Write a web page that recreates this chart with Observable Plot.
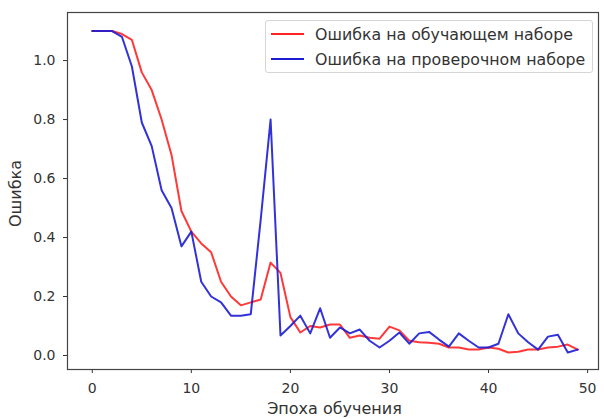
<!DOCTYPE html>
<html><head><meta charset="utf-8">
<script src="https://cdn.jsdelivr.net/npm/d3@7"></script>
<script src="https://cdn.jsdelivr.net/npm/@observablehq/plot@0.6"></script>
<style>
body{margin:0;background:#fff}
#wrap{position:relative;width:604px;height:419px;overflow:hidden;font-family:"DejaVu Sans",sans-serif}
#legend{position:absolute;left:265px;top:20px;width:328px;height:53px;box-sizing:border-box;border:1px solid #d5d5d5;border-radius:3px;background:rgba(255,255,255,0.85);font-size:15.8px;color:#333}
.row{position:absolute;left:0;height:20px;display:flex;align-items:center;white-space:nowrap}
.sw{width:33px;height:2px;margin-left:5px;margin-right:11px}
</style>
</head><body><div id="wrap"></div>
<script>
const epochs = [0,1,2,3,4,5,6,7,8,9,10,11,12,13,14,15,16,17,18,19,20,21,22,23,24,25,26,27,28,29,30,31,32,33,34,35,36,37,38,39,40,41,42,43,44,45,46,47,48,49];
const trainLoss = [1.10,1.10,1.10,1.09,1.07,0.96,0.90,0.80,0.68,0.49,0.42,0.38,0.35,0.25,0.20,0.17,0.18,0.19,0.315,0.28,0.13,0.078,0.10,0.095,0.105,0.105,0.06,0.068,0.06,0.057,0.098,0.085,0.05,0.045,0.043,0.04,0.027,0.027,0.02,0.02,0.027,0.023,0.01,0.013,0.02,0.02,0.027,0.03,0.037,0.02];
const valLoss = [1.10,1.10,1.10,1.08,0.98,0.79,0.71,0.56,0.50,0.37,0.42,0.25,0.20,0.18,0.135,0.135,0.14,0.46,0.80,0.068,0.10,0.135,0.075,0.16,0.06,0.095,0.075,0.088,0.05,0.027,0.05,0.078,0.04,0.075,0.08,0.054,0.03,0.075,0.05,0.027,0.027,0.04,0.14,0.075,0.045,0.02,0.064,0.07,0.01,0.02];
const seriesNames = ["Ошибка на обучающем наборе","Ошибка на проверочном наборе"];
const seriesColors = ["#ff2424","#1c1cd4"];
const xTicks = [0,10,20,30,40,50];
const yTicks = [0.0,0.2,0.4,0.6,0.8,1.0];
const xLabel = "Эпоха обучения";
const yLabel = "Ошибка";

const rows = [];
epochs.forEach((e,i)=>{
  rows.push({epoch:e, loss:trainLoss[i], s:seriesNames[0]});
  rows.push({epoch:e, loss:valLoss[i], s:seriesNames[1]});
});

const chart = Plot.plot({
  width:604, height:419,
  marginLeft:67, marginTop:12, marginRight:6, marginBottom:50,
  style:{fontFamily:"DejaVu Sans", fontSize:"14px", color:"#333", background:"#fff"},
  x:{domain:[-2.5,51.1]},
  y:{domain:[-0.0475,1.163]},
  color:{domain:seriesNames, range:seriesColors},
  marks:[
    Plot.axisX({ticks:xTicks, tickSize:4, tickPadding:10, tickFormat:d=>String(d), label:null, fontSize:14}),
    Plot.axisY({ticks:yTicks, tickSize:4, tickPadding:8, tickFormat:d=>d.toFixed(1), label:null, fontSize:14}),
    Plot.line(rows, {x:"epoch", y:"loss", z:"s", stroke:"s", strokeWidth:2, strokeOpacity:0.9}),
    Plot.frame({stroke:"#444", strokeWidth:1.2}),
    Plot.text([xLabel], {text:d=>d, frameAnchor:"bottom", textAnchor:"middle", lineAnchor:"top", dy:33, dx:1.5, fontSize:16, fill:"#333"}),
    Plot.text([yLabel], {text:d=>d, frameAnchor:"left", textAnchor:"middle", lineAnchor:"middle", rotate:-90, dx:-52, dy:2.5, fontSize:16, fill:"#333"})
  ]
});
const wrap = document.getElementById("wrap");
wrap.appendChild(chart);

const leg = document.createElement("div");
leg.id = "legend";
seriesNames.forEach((n,i)=>{
  const r = document.createElement("div");
  r.className = "row";
  r.style.top = (3 + i*25) + "px";
  const sw = document.createElement("div");
  sw.className = "sw";
  sw.style.background = seriesColors[i];
  const t = document.createElement("span");
  t.textContent = n;
  r.appendChild(sw); r.appendChild(t);
  leg.appendChild(r);
});
wrap.appendChild(leg);
</script>
</body></html>
